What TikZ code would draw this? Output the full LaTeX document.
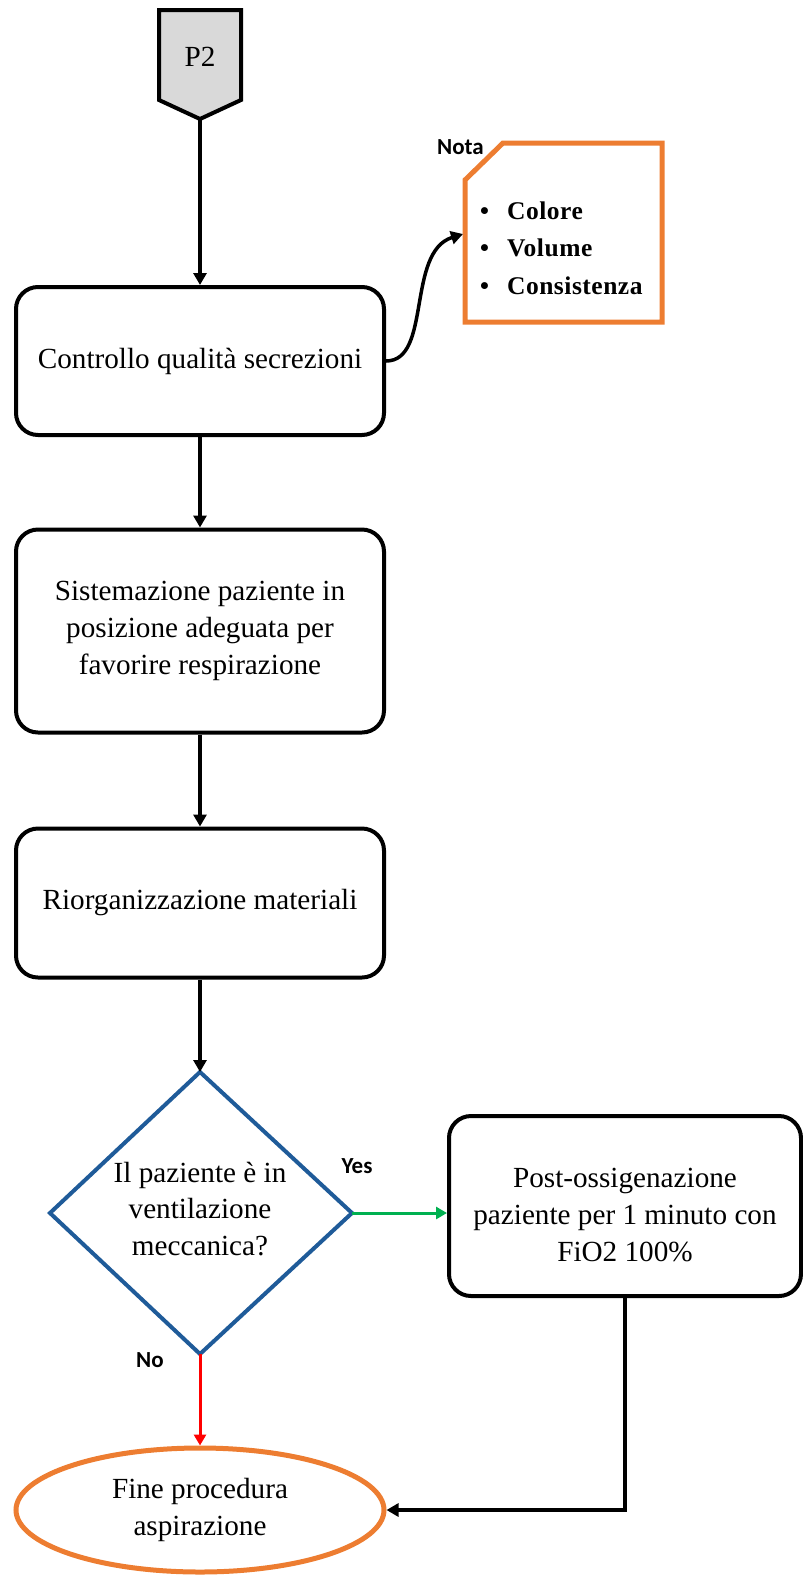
\documentclass[tikz,border=0pt]{standalone}
\usepackage{fontspec}
\setmainfont{Liberation Serif}
\newfontfamily\labelfont{Carlito}
\usetikzlibrary{arrows.meta,shapes.geometric}

\definecolor{flowblue}{RGB}{31,91,153}
\definecolor{noteorange}{RGB}{237,125,49}
\definecolor{yesgreen}{RGB}{0,176,80}
\definecolor{nored}{RGB}{255,0,0}
\definecolor{connfill}{RGB}{217,217,217}

\newcommand\flowtext{\fontsize{29.2}{36.8}\selectfont}
\newcommand\notetext{\fontsize{25.5}{37.5}\selectfont\bfseries\addfontfeatures{LetterSpace=2}}
\newcommand\tagtext{\labelfont\fontsize{23}{26}\selectfont\bfseries}

\begin{document}
\begin{tikzpicture}[x=1pt,y=-1pt,
  stepbox/.style={draw, line width=4pt, rounded corners=22pt, minimum width=368pt,
    align=center, font=\flowtext, inner sep=0pt},
  arr/.style={line width=3.5pt, -{Triangle[length=12pt,width=13pt]}},
  yesarr/.style={draw=yesgreen, line width=3pt, -{Triangle[length=11pt,width=12pt]}},
  noarr/.style={draw=nored, line width=3pt, -{Triangle[length=11pt,width=12pt]}},
  decision/.style={draw=flowblue, line width=4pt},
  notebox/.style={draw=noteorange, line width=5pt},
  tag/.style={font=\tagtext, inner sep=0pt}]
\useasboundingbox (0,0) rectangle (803,1575);

% off-page connector P2
\draw[line width=4pt, fill=connfill] (159,10) -- (241,10) -- (241,100) -- (200,119) -- (159,100) -- cycle;
\node[font=\flowtext] (p2) at (200,57) {P2};
\coordinate (p2tip) at (200,119);

% process steps
\node[stepbox, minimum height=148pt] (b1) at (200,361) {Controllo qualità secrezioni};
\node[stepbox, minimum height=203pt] (b2) at (200,631) {Sistemazione paziente in\\posizione adeguata per\\favorire respirazione};
\node[stepbox, minimum height=149pt] (b3) at (200,903) {Riorganizzazione materiali};
\node[stepbox, minimum width=352pt, minimum height=180pt] (b4) at (625,1206) {};
\node[font=\flowtext, align=center] (b4text) at (625,1215) {Post-ossigenazione\\paziente per 1 minuto con\\FiO2 100\%};

% note
\draw[notebox] (465,180) -- (503,143) -- (662,143) -- (662,322) -- (465,322) -- cycle;
\coordinate (notein) at (463,234);
\node[tag, anchor=east] (notatag) at (484,147) {Nota};
\node[font=\notetext, align=left, anchor=west, inner sep=0pt] (note) at (480,248)
  {\textbullet\hspace{18pt}Colore\\\textbullet\hspace{18pt}Volume\\\textbullet\hspace{18pt}Consistenza};

% decision
\coordinate (dtop) at (200,1072);
\coordinate (dright) at (352,1213);
\coordinate (dbot) at (200,1354);
\coordinate (dleft) at (50,1213);
\draw[decision] (dtop) -- (dright) -- (dbot) -- (dleft) -- cycle;
\node[font=\flowtext, align=center] (dec) at (200,1209) {Il paziente è in\\ventilazione\\meccanica?};
\node[tag] (yes) at (357,1166) {Yes};
\node[tag] (no) at (150,1360) {No};

% end
\node[draw=noteorange, line width=5pt, ellipse, minimum width=368pt, minimum height=124pt,
  inner sep=0pt, align=center, font=\flowtext] (fin) at (200,1510) {Fine procedura\\aspirazione};

% connectors
\draw[arr] (p2tip) -- (b1.north);
\draw[arr] (b1.south) -- (b2.north);
\draw[arr] (b2.south) -- (b3.north);
\draw[arr] (b3.south) -- (dtop);
\draw[arr] (b1.east) .. controls (432,361) and (406,252) .. (notein);
\draw[yesarr] (dright) -- (dright -| b4.west);
\draw[noarr] (dbot) -- (fin.north);
\draw[arr] (b4.south) |- (fin.east);
\end{tikzpicture}
\end{document}
